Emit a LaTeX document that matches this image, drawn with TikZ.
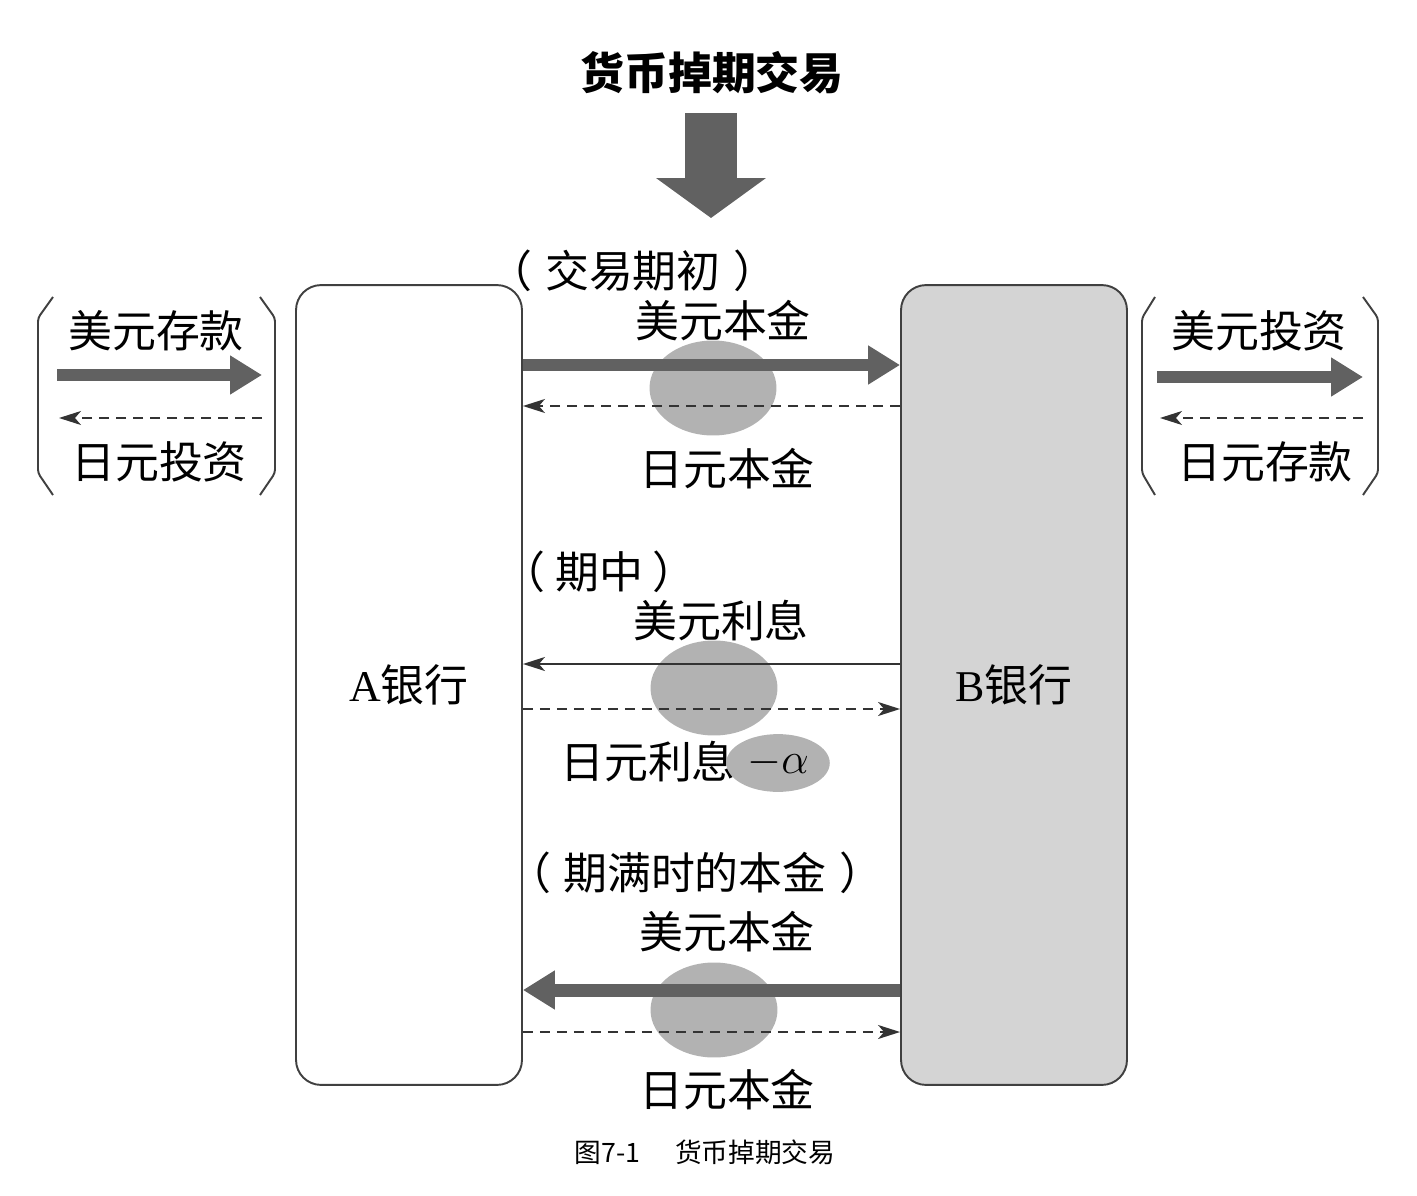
\documentclass[tikz,border=0pt]{standalone}
\usepackage{fontspec}
\setmainfont{Liberation Serif}
\newfontfamily\cjk{Noto Sans CJK SC}
\usetikzlibrary{arrows.meta,shapes.geometric}

\begin{document}
\begin{tikzpicture}[x=0.02cm, y=-0.02cm,
  font=\cjk\fontsize{25}{30}\selectfont,
  bank/.style={draw=black!75, line width=1.1pt, rounded corners=0.5cm,
    minimum width=4.52cm, minimum height=16cm},
  blob/.style={ellipse, fill=black!30, minimum width=2.54cm, minimum height=1.9cm},
  thickarr/.style={line width=0.26cm, draw=black!62,
    -{Triangle[length=0.64cm, width=0.74cm]}},
  thinarr/.style={line width=1pt, draw=black!80,
    -{Stealth[length=0.44cm, width=0.28cm, inset=0.12cm]}},
  dasharr/.style={thinarr, dash pattern=on 0.2cm off 0.14cm},
  brk/.style={line width=1.1pt, draw=black!75, rounded corners=2pt}]
  \useasboundingbox (0,0) rectangle (1417,1196);
  % Title and big arrow
  \node (title) at (712,73) {\bfseries 货币掉期交易};
  \coordinate (dtop) at (711,113);
  \coordinate (dtip) at (711,218);
  \draw[line width=1.04cm, draw=black!62, -{Triangle[length=0.8cm, width=2.16cm]}] (dtop) -- (dtip);
  % Grey blobs (behind the arrows)
  \node[blob] (e1) at (713,388) {};
  \node[blob] (e2) at (714,688) {};
  \node[blob] (e3) at (714,1010) {};
  % Banks
  \node[bank, fill=white] (A) at (409,685) {{\rmfamily A}银行};
  \node[bank, fill=black!17] (B) at (1014,685) {{\rmfamily B}银行};
  % Start of the deal
  \node (start) at (633,271) {（\hspace{0.28em}交易期初\hspace{0.28em}）};
  \node (usd1) at (723,321) {美元本金};
  \node (jpy1) at (727,469) {日元本金};
  \draw[thickarr] (A.east |- 0,365) -- (B.west |- 0,365);
  \draw[dasharr] (B.west |- 0,406) -- (A.east |- 0,406);
  % Interest during the term
  \node (mid) at (599,572) {（\hspace{0.22em}期中\hspace{0.22em}）};
  \node (usd2) at (721,621) {美元利息};
  \node (jpy2) at (648,762) {日元利息};
  \node[blob, minimum width=1.78cm, minimum height=0.9cm] (alpha) at (778,763) {$-\alpha$};
  \draw[thinarr] (B.west |- 0,664) -- (A.east |- 0,664);
  \draw[dasharr] (A.east |- 0,709) -- (B.west |- 0,709);
  % Principal at maturity
  \node (end) at (695,873) {（\hspace{0.28em}期满时的本金\hspace{0.28em}）};
  \node (usd3) at (727,932) {美元本金};
  \node (jpy3) at (727,1090) {日元本金};
  \draw[thickarr] (B.west |- 0,990) -- (A.east |- 0,990);
  \draw[dasharr] (A.east |- 0,1032) -- (B.west |- 0,1032);
  % Left side: A bank
  \draw[brk] (53,297) -- (38,318) -- (38,473) -- (53,495);
  \draw[brk] (260,297) -- (275,318) -- (275,473) -- (260,495);
  \node (ldep) at (156,331) {美元存款};
  \node (linv) at (159,462) {日元投资};
  \coordinate (la) at (57,375);
  \coordinate (lb) at (262,375);
  \coordinate (lc) at (59,418);
  \coordinate (ld) at (262,418);
  \draw[thickarr] (la) -- (lb);
  \draw[dasharr] (ld) -- (lc);
  % Right side: B bank
  \draw[brk] (1155,297) -- (1142,318) -- (1142,473) -- (1155,495);
  \draw[brk] (1363,297) -- (1378,318) -- (1378,473) -- (1363,495);
  \node (rinv) at (1259,331) {美元投资};
  \node (rdep) at (1265,462) {日元存款};
  \coordinate (ra) at (1157,377);
  \coordinate (rb) at (1363,377);
  \coordinate (rc) at (1160,418);
  \coordinate (rd) at (1363,418);
  \draw[thickarr] (ra) -- (rb);
  \draw[dasharr] (rd) -- (rc);
  % Caption
  \node (cap) at (705,1152) {\fontsize{15.2}{18}\selectfont 图7-1\hspace{1.3em}货币掉期交易};
\end{tikzpicture}
\end{document}
